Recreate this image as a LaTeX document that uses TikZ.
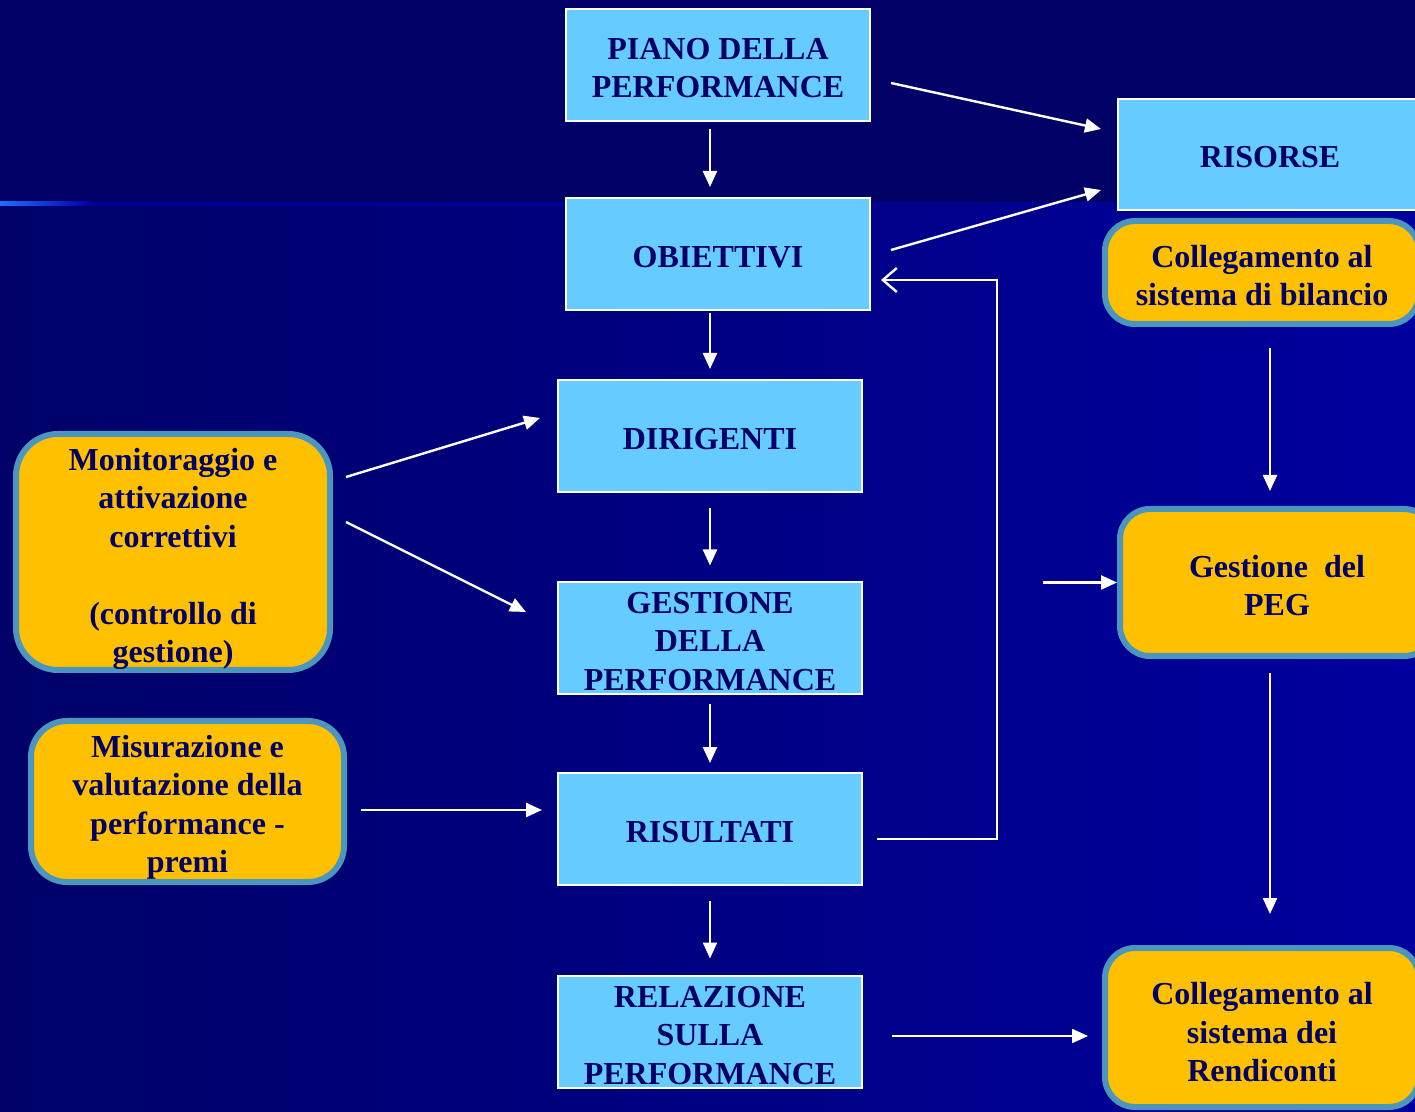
\documentclass[tikz,border=0pt]{standalone}
\usepackage{fontspec}
\setmainfont{Liberation Serif}
\usetikzlibrary{arrows.meta,calc}
\definecolor{topbg}{HTML}{000066}
\definecolor{bgl}{HTML}{000068}
\definecolor{bgr}{HTML}{00009E}
\definecolor{lblue}{HTML}{66CCFF}
\definecolor{orng}{HTML}{FFC000}
\definecolor{obord}{HTML}{4A96BE}
\definecolor{txt}{HTML}{000066}
\definecolor{lineA}{HTML}{1E6EFF}
\definecolor{lineB}{HTML}{0000A8}
\definecolor{lineC}{HTML}{000099}
\tikzset{
  bluebox/.style={draw=white, line width=1pt, fill=lblue, minimum width=152pt, minimum height=56pt, inner sep=0pt},
  orbox/.style={draw=obord, line width=3pt, fill=orng, rounded corners=15pt, minimum width=157pt, inner sep=0pt},
  lbl/.style={inner sep=0pt, align=center, text=txt, font=\fontsize{16}{19.25}\selectfont\bfseries},
  arr/.style={draw=white, line width=1.2pt, -{Triangle[length=8pt,width=7pt]}},
  fbarr/.style={draw=white, line width=1.2pt, -{Straight Barb[length=7pt,width=12pt,line width=1.2pt]}}
}
\begin{document}
\begin{tikzpicture}[x=0.5pt,y=-0.5pt]
\useasboundingbox (0,0) rectangle (1415,1112);
\clip (0,0) rectangle (1415,1112);
% background
\shade[left color=bgl, right color=bgr] (0,202) rectangle (1415,1112);
\fill[topbg] (0,0) rectangle (1415,202);
\shade[left color=lineA, right color=lineB] (0,202) rectangle (90,206);
\fill[lineC] (90,202) rectangle (566,206);
% blue boxes
\node[bluebox] (piano) at (718,65) {};
\node[lbl] (pianoT) at ($(piano)+(0,3)$) {PIANO DELLA\\PERFORMANCE};
\node[bluebox] (obj) at (718,254) {};
\node[lbl] (objT) at ($(obj)+(0,3)$) {OBIETTIVI};
\node[bluebox] (dir) at (710,436) {};
\node[lbl] (dirT) at ($(dir)+(0,3)$) {DIRIGENTI};
\node[bluebox] (gest) at (710,638.5) {};
\node[lbl] (gestT) at ($(gest)+(0,3)$) {GESTIONE\\ DELLA\\ PERFORMANCE};
\node[bluebox] (risul) at (710,829) {};
\node[lbl] (risulT) at ($(risul)+(0,3)$) {RISULTATI};
\node[bluebox] (rel) at (710,1031.5) {};
\node[lbl] (relT) at ($(rel)+(0,4)$) {RELAZIONE\\ SULLA\\ PERFORMANCE};
\node[bluebox, minimum height=55.5pt] (risorse) at (1270,154.5) {};
\node[lbl] (risorseT) at ($(risorse)+(0,3)$) {RISORSE};
% orange boxes
\node[orbox, minimum height=51.5pt] (bil) at (1262,272.5) {};
\node[lbl] (bilT) at ($(bil)+(0,3)$) {Collegamento al\\sistema di bilancio};
\node[orbox, minimum height=73.5pt] (peg) at (1277,582.5) {};
\node[lbl] (pegT) at ($(peg)+(0,3)$) {Gestione\ \ del\\PEG};
\node[orbox, minimum height=79.5pt] (rend) at (1262,1027.5) {};
\node[lbl] (rendT) at ($(rend)+(0,5)$) {Collegamento al\\sistema dei\\Rendiconti};
\node[orbox, rounded corners=21pt, minimum height=118pt] (mon) at (173,552) {};
\node[lbl] (monT) at ($(mon)+(0,7)$) {Monitoraggio e\\attivazione\\correttivi\\[19.25pt](controllo di\\gestione)};
\node[orbox, rounded corners=18pt, minimum height=80.5pt, minimum width=156.5pt] (mis) at (187.5,801.5) {};
\node[lbl] (misT) at ($(mis)+(0,6)$) {Misurazione e\\valutazione della\\performance -\\premi};
% arrows
\draw[arr] ($(piano.south)+(-8,7)$) -- ($(obj.north)+(-8,-10)$);
\draw[arr] ($(piano.east)+(20,18)$) -- ($(risorse.west)+(-16,-25.5)$);
\draw[arr] ($(obj.east)+(20,-4)$) -- ($(risorse.west)+(-16,35.5)$);
\draw[arr] ($(obj.south)+(-8,2)$) -- ($(dir.north)+(0,-10)$);
\draw[arr] ($(dir.south)+(0,15)$) -- ($(gest.north)+(0,-16)$);
\draw[arr] ($(gest.south)+(0,9)$) -- ($(risul.north)+(0,-9)$);
\draw[arr] ($(risul.south)+(0,15)$) -- ($(rel.north)+(0,-16)$);
\draw[arr] ($(mon.east)+(13,-75)$) -- ($(dir.west)+(-17,-18)$);
\draw[arr] ($(mon.east)+(13,-30)$) -- ($(gest.west)+(-31,-26.5)$);
\draw[arr] ($(mis.east)+(14,8.5)$) -- ($(risul.west)+(-15,-19)$);
\coordinate (fbx) at (997,560);
\draw[fbarr] ($(risul.east)+(14,10)$) -| (fbx) |- ($(obj.east)+(10,26)$);
\draw[arr] ($(bil.south)+(8,21)$) -- ($(peg.north)+(-7,-15)$);
\coordinate (pegin) at (1043,582.5);
\draw[arr] (pegin) -- (peg.west);
\draw[arr] ($(peg.south)+(-7,14)$) -- ($(rend.north)+(8,-31)$);
\draw[arr] ($(rel.east)+(29,4.5)$) -- ($(rend.west)+(-14,8.5)$);
\end{tikzpicture}
\end{document}
